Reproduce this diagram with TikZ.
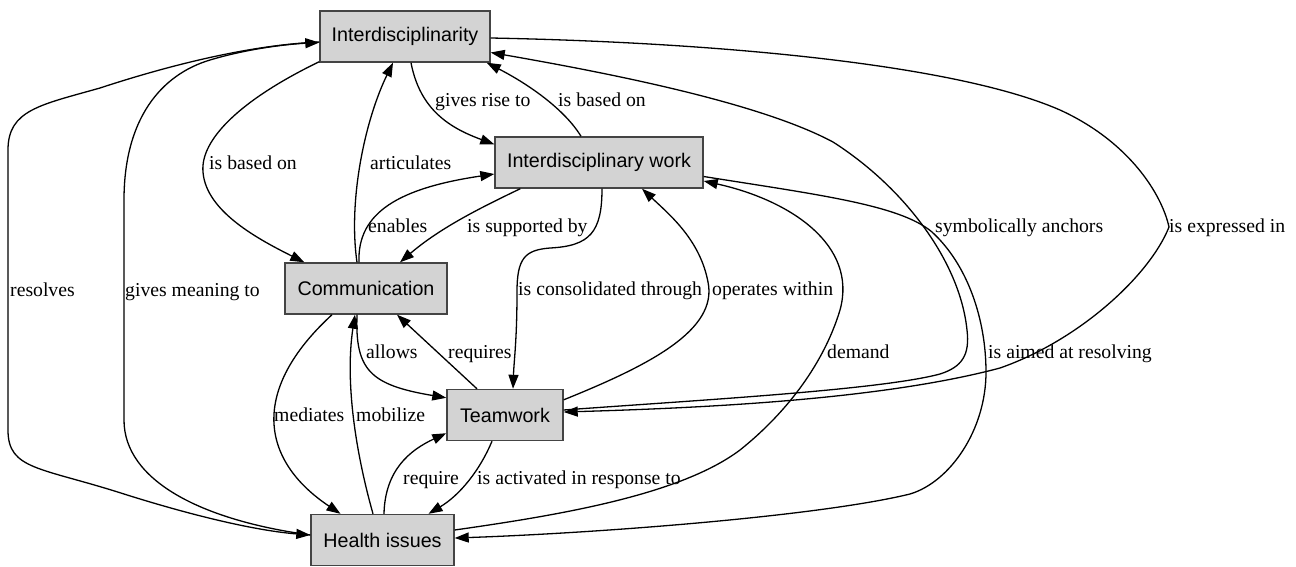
\documentclass[tikz,border=0pt]{standalone}
\usepackage{fontspec}
\setmainfont{Liberation Serif}
\newfontfamily\nodefont{Liberation Sans}
\usetikzlibrary{arrows.meta}
\definecolor{boxgray}{HTML}{D3D3D3}
\definecolor{boxline}{HTML}{444444}
\begin{document}
\begin{tikzpicture}[x=1pt,y=-1pt,
  box/.style={draw=boxline, fill=boxgray, line width=1.4pt, minimum height=51pt, inner sep=0pt, font=\nodefont\fontsize{19.7}{23}\selectfont},
  lbl/.style={inner sep=0pt, anchor=base west, font=\fontsize{19.7}{23}\selectfont},
  edge/.style={line width=1.3pt, -{Triangle[length=14pt,width=10pt]}}
]
\useasboundingbox (0,0) rectangle (1296,566);
\fill[white] (0,0) rectangle (1296,566);
% nodes
\node[box, minimum width=170pt] (I) at (405,36.5) {Interdisciplinarity};
\node[box, minimum width=208pt] (W) at (599,162.5) {Interdisciplinary work};
\node[box, minimum width=162pt] (C) at (366,288.5) {Communication};
\node[box, minimum width=116pt] (T) at (505,415) {Teamwork};
\node[box, minimum width=143pt] (H) at (382.5,540) {Health issues};
% edges
% resolves
\draw[edge] ([yshift=-5.5pt]I.west) .. controls (250,45) and (170,65) .. (100,88) .. controls (40,105) and (8,110) .. (8,150) -- (8,430) .. controls (8,470) and (40,467) .. (124,494) .. controls (200,518) and (260,531) .. ([yshift=5pt]H.west);
% gives meaning to
\draw[edge] ([yshift=5pt]H.west) .. controls (200,520) and (124,480) .. (124,420) -- (124,200) .. controls (124,120) and (160,75) .. (210,60) .. controls (250,48) and (290,44) .. ([yshift=-6pt]I.west);
% is based on (I->C)
\draw[edge] ([yshift=1pt]I.south west) .. controls (240,100) and (200,140) .. (203,172) .. controls (206,212) and (260,240) .. ([xshift=20pt]C.north west);
% articulates
\draw[edge] ([xshift=-9pt]C.north) .. controls (348,200) and (365,120) .. ([xshift=-12pt]I.south);
% enables
\draw[edge] ([xshift=-7pt]C.north) .. controls (357,212) and (400,188) .. ([yshift=-11.5pt]W.west);
% is supported by
\draw[edge] ([xshift=26pt]W.south west) .. controls (480,208) and (440,228) .. ([xshift=34pt]C.north);
% gives rise to
\draw[edge] ([xshift=6pt]I.south) .. controls (420,110) and (450,128) .. ([yshift=-8pt]W.north west);
% is based on (W->I)
\draw[edge] ([xshift=-18pt]W.north) .. controls (565,110) and (530,85) .. ([xshift=-4pt]I.south east);
% is consolidated through
\draw[edge] ([xshift=3pt]W.south) .. controls (602,232) and (590,246) .. (550,248) .. controls (525,250) and (517,258) .. (517,292) .. controls (517,340) and (514,360) .. ([xshift=8pt]T.north);
% operates within
\draw[edge] ([yshift=-11pt]T.north east) .. controls (650,365) and (718,330) .. (708,282) .. controls (700,240) and (670,215) .. ([xshift=43pt]W.south);
% demand
\draw[edge] ([yshift=10pt]H.east) .. controls (560,515) and (680,495) .. (740,450) .. controls (790,410) and (825,360) .. (840,310) .. controls (858,245) and (790,200) .. ([yshift=-18.5pt]W.east);
% is aimed at resolving
\draw[edge] ([yshift=-14pt]W.east) .. controls (820,195) and (900,205) .. (932,232) .. controls (968,265) and (986,320) .. (986,372) .. controls (986,430) and (950,482) .. (910,494) .. controls (820,516) and (600,533) .. ([yshift=2pt]H.east);
% symbolically anchors
\draw[edge] ([yshift=5pt]T.east) .. controls (700,400) and (880,390) .. (940,374) .. controls (962,367) and (970,355) .. (967,330) .. controls (960,262) and (905,188) .. (833,142) .. controls (762,104) and (620,75) .. ([yshift=-16pt]I.east);
% is expressed in
\draw[edge] ([yshift=-1.5pt]I.east) .. controls (700,42) and (950,62) .. (1060,110) .. controls (1130,142) and (1162,195) .. (1169,227) .. controls (1150,275) and (1080,340) .. (1000,368) .. controls (880,400) and (700,408) .. ([yshift=3pt]T.east);
% mediates
\draw[edge] ([xshift=-34pt]C.south) .. controls (250,390) and (260,460) .. ([xshift=-42pt]H.north);
% mobilize
\draw[edge] ([xshift=-9.5pt]H.north) .. controls (355,450) and (345,380) .. ([xshift=-11pt]C.south);
% allows
\draw[edge] ([xshift=-9pt]C.south) .. controls (355,370) and (370,385) .. ([yshift=-9pt]T.north west);
% requires
\draw[edge] ([xshift=-28pt]T.north) -- ([xshift=31pt]C.south);
% require
\draw[edge] ([xshift=1.5pt]H.north) .. controls (385,470) and (410,450) .. ([yshift=8pt]T.south west);
% is activated in response to
\draw[edge] ([xshift=-13pt]T.south) .. controls (480,470) and (460,495) .. ([xshift=46pt]H.north);
% labels
\node[lbl] (l1) at (10,296.5) {resolves};
\node[lbl] (l2) at (125,296.5) {gives meaning to};
\node[lbl] (l3) at (209,169.5) {is based on};
\node[lbl] (l4) at (370,169.5) {articulates};
\node[lbl] (l5) at (435,106.5) {gives rise to};
\node[lbl] (l6) at (558,106.5) {is based on};
\node[lbl] (l7) at (368,232.5) {enables};
\node[lbl] (l8) at (467,232.5) {is supported by};
\node[lbl] (l9) at (518,295.5) {is consolidated through};
\node[lbl] (l10) at (712,295.5) {operates within};
\node[lbl] (l11) at (827,358.5) {demand};
\node[lbl] (l12) at (935,232.5) {symbolically anchors};
\node[lbl] (l13) at (1169,232.5) {is expressed in};
\node[lbl] (l14) at (988,358.5) {is aimed at resolving};
\node[lbl] (l15) at (448,358.5) {requires};
\node[lbl] (l16) at (366,358.5) {allows};
\node[lbl] (l17) at (274,421.5) {mediates};
\node[lbl] (l18) at (356,421.5) {mobilize};
\node[lbl] (l19) at (403,484.5) {require};
\node[lbl] (l20) at (477,484.5) {is activated in response to};
\end{tikzpicture}
\end{document}
